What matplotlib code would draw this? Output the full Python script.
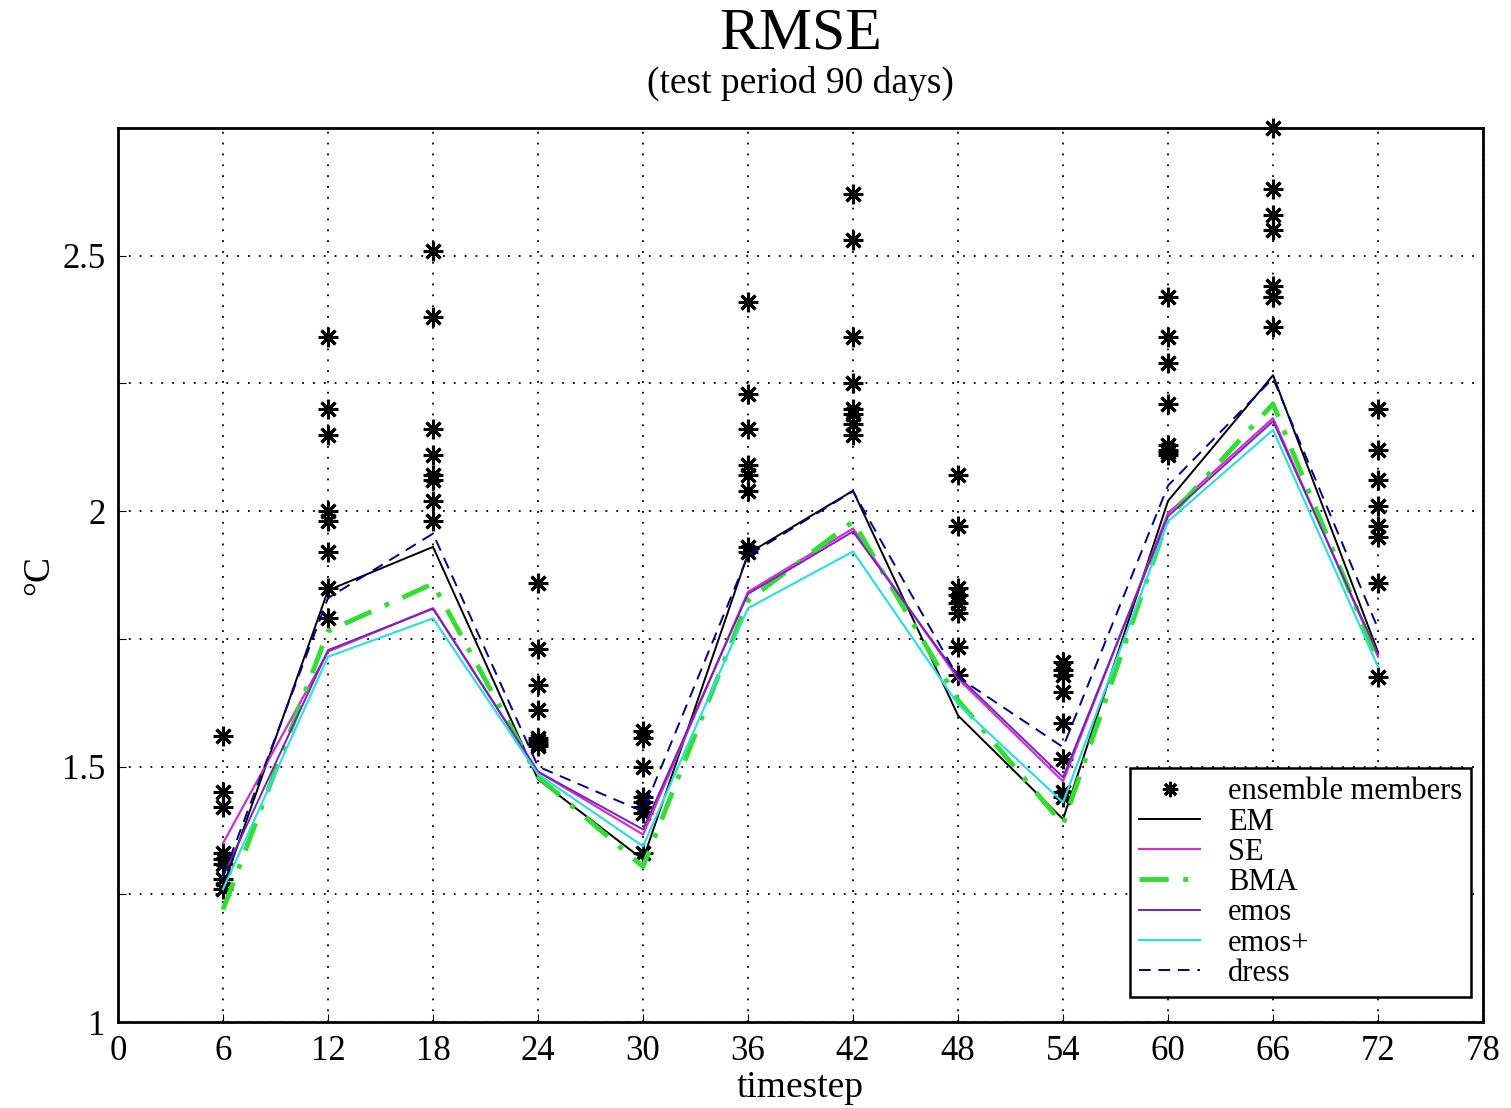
import numpy as np
import matplotlib
matplotlib.use("Agg")
import matplotlib.pyplot as plt

plt.rcParams['font.family'] = ['Liberation Serif', 'DejaVu Serif']

# lead times (hours)
timesteps = [6, 12, 18, 24, 30, 36, 42, 48, 54, 60, 66, 72]

# RMSE of the 8 ensemble members at each timestep
members = [
    [1.56, 1.45, 1.42, 1.33, 1.32, 1.31, 1.28, 1.26],
    [2.34, 2.20, 2.15, 2.00, 1.98, 1.92, 1.85, 1.79],
    [2.51, 2.38, 2.16, 2.11, 2.07, 2.06, 2.02, 1.98],
    [1.86, 1.73, 1.66, 1.61, 1.555, 1.55, 1.545, 1.54],
    [1.57, 1.555, 1.50, 1.44, 1.43, 1.42, 1.41, 1.33],
    [2.41, 2.23, 2.16, 2.09, 2.07, 2.04, 1.93, 1.92],
    [2.62, 2.53, 2.34, 2.25, 2.20, 2.19, 2.17, 2.15],
    [2.07, 1.97, 1.85, 1.835, 1.82, 1.80, 1.735, 1.68],
    [1.705, 1.69, 1.68, 1.645, 1.585, 1.515, 1.45, 1.44],
    [2.42, 2.34, 2.29, 2.21, 2.13, 2.12, 2.115, 2.11],
    [2.75, 2.63, 2.58, 2.55, 2.44, 2.42, 2.42, 2.36],
    [2.20, 2.12, 2.06, 2.01, 1.97, 1.95, 1.86, 1.675],
]

em    = [1.265, 1.845, 1.93, 1.475, 1.318, 1.917, 2.04, 1.60, 1.397, 2.02, 2.266, 1.724]
se    = [1.35, 1.725, 1.81, 1.49, 1.367, 1.842, 1.966, 1.672, 1.471, 1.996, 2.182, 1.715]
bma   = [1.22, 1.765, 1.858, 1.48, 1.304, 1.825, 1.98, 1.63, 1.387, 1.986, 2.21, 1.707]
emos  = [1.285, 1.728, 1.809, 1.49, 1.377, 1.838, 1.96, 1.677, 1.479, 1.99, 2.176, 1.72]
emosp = [1.26, 1.715, 1.79, 1.485, 1.344, 1.81, 1.921, 1.622, 1.43, 1.98, 2.159, 1.695]
dress = [1.285, 1.83, 1.956, 1.50, 1.412, 1.913, 2.039, 1.675, 1.538, 2.05, 2.26, 1.77]

fig = plt.figure(figsize=(15.11, 11.08), dpi=100)
ax = fig.add_axes([0.0781, 0.0776, 0.9034, 0.8069])

# ensemble members as asterisks
star = (8, 2, 0)
for i, t in enumerate(timesteps):
    ax.plot([t] * len(members[i]), members[i], linestyle='none', marker=star,
            markersize=14, markeredgewidth=2.2, color='black', clip_on=False,
            label='ensemble members' if i == 0 else None)

ax.plot(timesteps, em, color='black', lw=1.4, label='EM')
ax.plot(timesteps, se, color='#cc33cc', lw=1.6, label='SE')
ax.plot(timesteps, bma, color='#33dd33', lw=3.5, linestyle=(0, (6, 3, 1, 3)), label='BMA')
ax.plot(timesteps, emos, color='#7722bb', lw=1.4, label='emos')
ax.plot(timesteps, emosp, color='#33dddd', lw=1.6, label='emos+')
ax.plot(timesteps, dress, color='#000088', lw=1.4, linestyle=(0, (6, 4)), label='dress')

ax.set_xlim(0, 78)
ax.set_ylim(1, 2.75)
ax.set_xticks(np.arange(0, 79, 6))
yt = np.arange(1, 2.76, 0.25)
ax.set_yticks(yt)
ax.set_yticklabels(['1', '', '1.5', '', '2', '', '2.5', ''])
ax.tick_params(direction='in', length=6, labelsize=25, pad=9)
ax.grid(True, color='black', linestyle=(0, (1, 5)), linewidth=1.3)
for s in ax.spines.values():
    s.set_linewidth(2)

ax.set_xlabel('timestep', fontsize=27, labelpad=2)
ax.set_ylabel('°C', fontsize=27, labelpad=4)

fig.text(0.53, 0.969, 'RMSE', ha='center', va='center', fontsize=43)
fig.text(0.53, 0.925, '(test period 90 days)', ha='center', va='center', fontsize=27)

leg = ax.legend(loc='lower right', bbox_to_anchor=(0.9912, 0.028), borderaxespad=0,
                fontsize=22, fancybox=False, edgecolor='black', framealpha=1,
                labelspacing=0.04, handlelength=2.0, handletextpad=0.9, borderpad=0.3)
leg.get_frame().set_linewidth(1.8)
for h in leg.legend_handles[:1]:
    h.set_markersize(11)

fig.savefig('out.png', dpi=100)
